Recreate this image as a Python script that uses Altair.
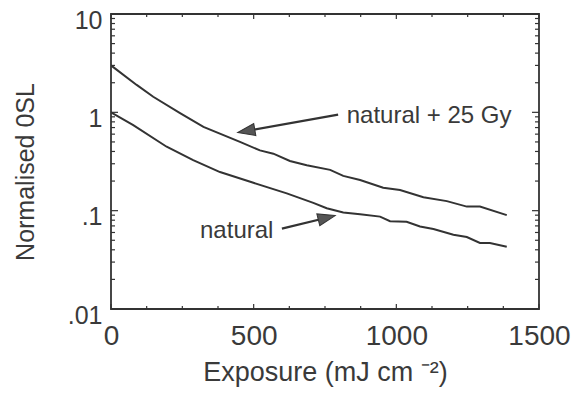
import altair as alt
import pandas as pd

# ---- data ----
upper_x = [0, 90, 148, 242, 324, 452, 522, 569, 627, 686, 768, 814, 873, 954, 1013, 1095, 1177, 1247, 1293, 1387]
upper_y = [3.0, 1.90, 1.44, 0.98, 0.71, 0.50, 0.41, 0.38, 0.32, 0.29, 0.26, 0.226, 0.205, 0.171, 0.162, 0.137, 0.125, 0.110, 0.110, 0.090]

lower_x = [0, 78, 195, 288, 382, 499, 616, 709, 756, 814, 873, 943, 978, 1036, 1083, 1130, 1200, 1247, 1293, 1328, 1387]
lower_y = [1.0, 0.74, 0.447, 0.327, 0.247, 0.192, 0.150, 0.120, 0.106, 0.096, 0.092, 0.087, 0.078, 0.077, 0.069, 0.065, 0.057, 0.054, 0.047, 0.047, 0.043]

label_text = ["natural + 25 Gy", "natural"]
label_x = [826, 312]
label_y = [0.778, 0.0527]

arrow_tail_x = [796, 599]
arrow_tail_y = [0.948, 0.0656]
arrow_head_x = [474, 756]
arrow_head_y = [0.645, 0.0848]
arrow_angle = [260, 76]

x_major = [0, 500, 1000, 1500]
x_minor = [125, 250, 375, 625, 750, 875, 1125, 1250, 1375]
y_major = [0.01, 0.1, 1, 10]
y_minor = [0.02, 0.03, 0.04, 0.05, 0.06, 0.07, 0.08, 0.09,
           0.2, 0.3, 0.4, 0.5, 0.6, 0.7, 0.8, 0.9,
           2, 3, 4, 5, 6, 7, 8, 9]

W, H = 428, 295
FONT = "Liberation Sans"
TXT = "#3a3a3a"
INK = "#333333"

curves = pd.concat([
    pd.DataFrame({"x": upper_x, "y": upper_y, "s": "natural + 25 Gy"}),
    pd.DataFrame({"x": lower_x, "y": lower_y, "s": "natural"}),
])
labels = pd.DataFrame({"t": label_text, "x": label_x, "y": label_y})
arrows = pd.DataFrame({"x": arrow_tail_x, "y": arrow_tail_y, "x2": arrow_head_x, "y2": arrow_head_y})
heads = pd.DataFrame({"x": arrow_head_x, "y": arrow_head_y, "a": arrow_angle})

xscale = alt.Scale(domain=[0, 1500], nice=False, zero=False)
yscale = alt.Scale(type="log", domain=[0.01, 10], nice=False)

xaxis = alt.Axis(values=x_major, format="d", ticks=False, domain=False, grid=False,
                 labelFont=FONT, labelFontSize=28, labelColor=TXT, labelPadding=13,
                 labelFlush=False, labelOverlap=False,
                 title="Exposure (mJ cm \u207B\u00B2)", titleFont=FONT, titleFontSize=27,
                 titleFontWeight="normal", titleColor=TXT, titlePadding=9)
yaxis = alt.Axis(values=y_major, ticks=False, domain=False, grid=False,
                 labelExpr="datum.value >= 10 ? '10' : datum.value >= 1 ? '1' : datum.value >= 0.1 ? '.1' : '.01'",
                 labelFont=FONT, labelFontSize=25, labelColor=TXT, labelPadding=9, labelOffset=6,
                 labelFlush=False, labelOverlap=False,
                 title="Normalised 0SL", titleFont=FONT, titleFontSize=25,
                 titleFontWeight="normal", titleColor=TXT, titleX=-86, titleY=H / 2 + 10,
                 titleAngle=-90, titleAlign="center", titleBaseline="middle")

base_x = alt.X("x:Q", scale=xscale, axis=xaxis)
base_y = alt.Y("y:Q", scale=yscale, axis=yaxis)

lines = alt.Chart(curves).mark_line(color=INK, strokeWidth=2, clip=True).encode(
    x=base_x, y=base_y, detail="s:N")

arrow_lines = alt.Chart(arrows).mark_rule(color=INK, strokeWidth=2.2).encode(
    x="x:Q", y="y:Q", x2="x2:Q", y2="y2:Q")

arrow_heads = alt.Chart(heads).mark_point(
    shape="M0,-1L-0.7,1L0.7,1Z", size=300, filled=True, fill="#555555",
    stroke=INK, strokeWidth=1, opacity=1).encode(
    x="x:Q", y="y:Q", angle=alt.Angle("a:Q", scale=None))

texts = alt.Chart(labels).mark_text(align="left", baseline="alphabetic", font=FONT,
                                    fontSize=24, color=TXT).encode(
    x="x:Q", y="y:Q", text="t:N")

def ytick(vals, x0, x1):
    return alt.Chart(pd.DataFrame({"y": vals})).mark_rule(color=INK, strokeWidth=1.2).encode(
        y="y:Q", x=alt.value(x0), x2=alt.value(x1))

def xtick(vals, y0, y1):
    return alt.Chart(pd.DataFrame({"x": vals})).mark_rule(color=INK, strokeWidth=1.2).encode(
        x="x:Q", y=alt.value(y0), y2=alt.value(y1))

ticks = [
    ytick(y_major, 0, 7), ytick(y_minor, 0, 4),
    ytick(y_major, W, W - 7), ytick(y_minor, W, W - 4),
    xtick(x_major, H, H - 5), xtick(x_minor, H, H - 3),
    xtick(x_major, 0, 5), xtick(x_minor, 0, 3),
]

chart = alt.layer(lines, *ticks, arrow_lines, arrow_heads, texts).properties(
    width=W, height=H,
    autosize=alt.AutoSizeParams(type="none"),
    padding={"left": 111, "top": 14, "right": 49, "bottom": 84},
    background="white",
).configure_view(stroke=INK, strokeWidth=1.8)

chart.save("out.html", embed_options={"renderer": "svg", "actions": False})
